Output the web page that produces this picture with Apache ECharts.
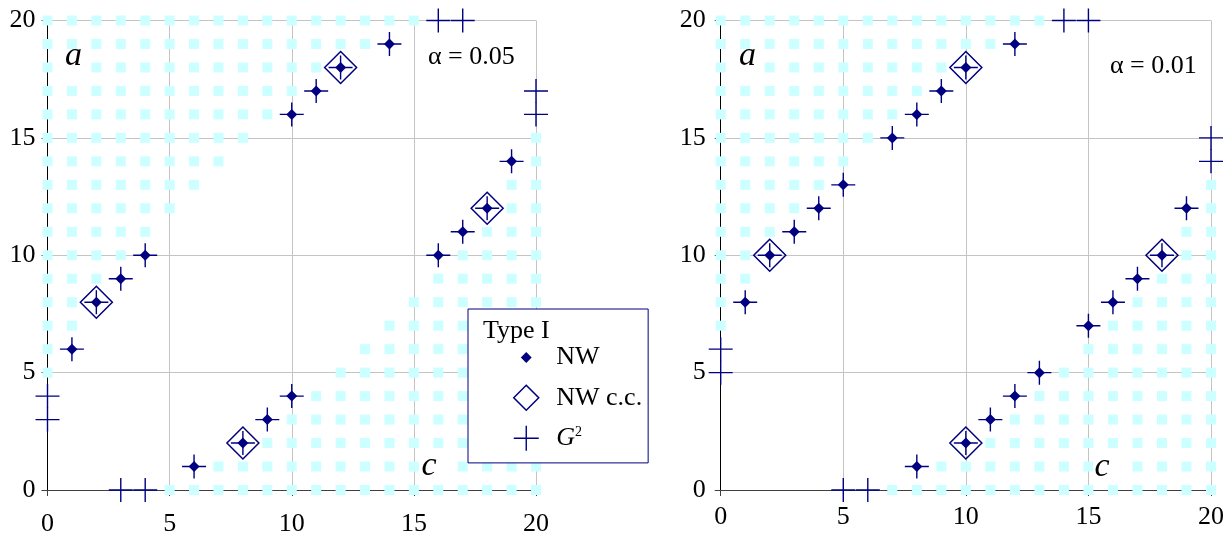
<!DOCTYPE html>
<html>
<head>
<meta charset="utf-8">
<script src="https://cdn.jsdelivr.net/npm/echarts@6/dist/echarts.min.js"></script>
<style>
html,body{margin:0;padding:0;background:#fff;}
#chart{width:1231px;height:537px;}
</style>
</head>
<body>
<div id="chart"></div>
<script>
// ---- axis ----
const AXIS_MIN = 0, AXIS_MAX = 20, AXIS_STEP = 5;
const panelAlpha = ['α = 0.05', 'α = 0.01'];

// ---- alpha = 0.05 ----
// rejection region rows: [y, xFrom, xTo]
const region05 = [
  [20,0,15],[19,0,13],[18,0,11],[17,0,10],[16,0,9],[15,0,8],[14,0,7],[13,0,6],
  [12,0,5],[11,0,4],[10,0,3],[9,0,2],[8,0,1],[7,0,1],[6,0,0],[5,0,0],
  [0,5,20],[1,7,20],[2,9,20],[3,10,20],[4,11,20],[5,12,20],[6,13,20],[7,14,20],
  [8,15,20],[9,16,20],[10,17,20],[11,18,20],[12,19,20],[13,19,20],[14,20,20],[15,20,20]
];
const nw05 = [[14,19],[12,18],[11,17],[10,16],[4,10],[3,9],[2,8],[1,6],
              [19,14],[18,12],[17,11],[16,10],[10,4],[9,3],[8,2],[6,1]];
const nwcc05 = [[12,18],[2,8],[18,12],[8,2]];
const g2_05 = [[14,19],[12,18],[11,17],[10,16],[4,10],[3,9],[2,8],[1,6],
               [19,14],[18,12],[17,11],[16,10],[10,4],[9,3],[8,2],[6,1],
               [16,20],[17,20],[20,16],[20,17],[0,3],[0,4],[3,0],[4,0]];

// ---- alpha = 0.01 ----
const region01 = [
  [20,0,13],[19,0,11],[18,0,9],[17,0,8],[16,0,7],[15,0,6],[14,0,5],[13,0,4],
  [12,0,3],[11,0,2],[10,0,1],[9,0,1],[8,0,0],[7,0,0],
  [0,7,20],[1,9,20],[2,11,20],[3,12,20],[4,13,20],[5,14,20],[6,15,20],[7,16,20],
  [8,17,20],[9,18,20],[10,19,20],[11,19,20],[12,20,20],[13,20,20]
];
const nw01 = [[12,19],[10,18],[9,17],[8,16],[7,15],[5,13],[4,12],[3,11],[2,10],[1,8],
              [19,12],[18,10],[17,9],[16,8],[15,7],[13,5],[12,4],[11,3],[10,2],[8,1]];
const nwcc01 = [[10,18],[2,10],[18,10],[10,2]];
const g2_01 = [[12,19],[10,18],[9,17],[8,16],[7,15],[5,13],[4,12],[3,11],[2,10],[1,8],
               [19,12],[18,10],[17,9],[16,8],[15,7],[13,5],[12,4],[11,3],[10,2],[8,1],
               [14,20],[15,20],[20,14],[20,15],[0,5],[0,6],[5,0],[6,0]];

const panels = [
  {region: region05, nw: nw05, nwcc: nwcc05, g2: g2_05},
  {region: region01, nw: nw01, nwcc: nwcc01, g2: g2_01}
];

function expandRows(rows) {
  const pts = [];
  rows.forEach(r => { for (let x = r[1]; x <= r[2]; x++) pts.push([x, r[0]]); });
  return pts;
}

const NAVY = '#000080';
const CYAN = '#ccffff';
const FONT = 'Liberation Serif';
const FS = 26;
const PLUS = 'path://M12,0V24M0,12H24';

const grids = [
  {left: 47.5, top: 20.5, width: 488.5, height: 469.5},
  {left: 720.7, top: 20.5, width: 490.3, height: 469.5}
];
const xLabelMargin = [21, 14];
const yLabelMargin = [12, 15];

const xAxes = [], yAxes = [], series = [];
panels.forEach((p, i) => {
  xAxes.push({
    gridIndex: i, type: 'value', min: AXIS_MIN, max: AXIS_MAX, interval: AXIS_STEP,
    axisLine: {show: true, onZero: false, lineStyle: {color: '#404040', width: 1}},
    axisTick: {show: true, length: 6, lineStyle: {color: '#404040'}},
    splitLine: {show: true, lineStyle: {color: '#c4c4c4', width: 1}},
    axisLabel: {margin: xLabelMargin[i], fontFamily: FONT, fontSize: FS, color: '#000'}
  });
  yAxes.push({
    gridIndex: i, type: 'value', min: AXIS_MIN, max: AXIS_MAX, interval: AXIS_STEP,
    axisLine: {show: true, onZero: false, lineStyle: {color: '#000', width: 1}},
    axisTick: {show: true, length: 6, lineStyle: {color: '#404040'}},
    splitLine: {show: true, lineStyle: {color: '#c4c4c4', width: 1}},
    axisLabel: {margin: yLabelMargin[i], fontFamily: FONT, fontSize: FS, color: '#000'}
  });
  series.push({
    name: 'region', type: 'scatter', xAxisIndex: i, yAxisIndex: i, z: 2, clip: false, silent: true,
    symbol: 'rect', symbolSize: 10, itemStyle: {color: CYAN, opacity: 1},
    data: expandRows(p.region)
  });
  series.push({
    name: 'NW c.c.', type: 'scatter', xAxisIndex: i, yAxisIndex: i, z: 3, clip: false,
    symbol: 'diamond', symbolSize: 32,
    itemStyle: {color: 'rgba(0,0,0,0)', borderColor: NAVY, borderWidth: 1.5, opacity: 1},
    data: p.nwcc
  });
  series.push({
    name: 'NW', type: 'scatter', xAxisIndex: i, yAxisIndex: i, z: 4, clip: false,
    symbol: 'diamond', symbolSize: 11,
    itemStyle: {color: NAVY, opacity: 1},
    data: p.nw
  });
  series.push({
    name: 'G²', type: 'scatter', xAxisIndex: i, yAxisIndex: i, z: 5, clip: false,
    symbol: PLUS, symbolSize: 24,
    itemStyle: {color: 'rgba(0,0,0,0)', borderColor: NAVY, borderWidth: 1.4, opacity: 1},
    data: p.g2
  });
});

const graphic = [];
// white boxes behind the region letters
[[56,51,31,30],[729,51,33,30],[420,450,30,33],[1093,450,32,33]].forEach(r => {
  graphic.push({type: 'rect', z: 10, shape: {x: r[0], y: r[1], width: r[2], height: r[3]},
                style: {fill: '#fff'}, silent: true});
});
[['a',73.5,56],['a',747.5,56.5],['c',429,466.5],['c',1102,467.5]].forEach(t => {
  graphic.push({type: 'text', z: 11, x: t[1], y: t[2],
    style: {text: t[0], font: 'italic 34px "' + FONT + '"', fill: '#000',
            textAlign: 'center', textVerticalAlign: 'middle'}});
});
graphic.push({type: 'text', z: 11, x: 428, y: 57.5,
  style: {text: panelAlpha[0], font: FS + 'px "' + FONT + '"', fill: '#000', textAlign: 'left', textVerticalAlign: 'middle'}});
graphic.push({type: 'text', z: 11, x: 1110, y: 66,
  style: {text: panelAlpha[1], font: FS + 'px "' + FONT + '"', fill: '#000', textAlign: 'left', textVerticalAlign: 'middle'}});
graphic.push({type: 'text', z: 100, x: 483, y: 331,
  style: {text: 'Type I', font: FS + 'px "' + FONT + '"', fill: '#000', textAlign: 'left', textVerticalAlign: 'middle'}});

const option = {
  animation: false,
  backgroundColor: '#fff',
  grid: grids,
  xAxis: xAxes,
  yAxis: yAxes,
  series: series,
  graphic: graphic,
  legend: {
    left: 468, top: 309, orient: 'vertical',
    padding: [35.5, 6, 11.5, 45],
    itemWidth: 50, itemHeight: 25, itemGap: 14,
    symbolKeepAspect: true,
    backgroundColor: '#fff', borderColor: NAVY, borderWidth: 1, borderRadius: 0,
    selectedMode: false, z: 20,
    textStyle: {fontFamily: FONT, fontSize: FS, color: '#000', lineHeight: 25,
      rich: {
        g: {fontFamily: FONT, fontSize: FS, fontStyle: 'italic', color: '#000'},
        s: {fontFamily: FONT, fontSize: 14, color: '#000', verticalAlign: 'top', lineHeight: 13}
      }},
    formatter: name => name === 'G²' ? '{g|G}{s|2}' : name,
    data: [
      {name: 'NW', icon: 'path://M-1.15,-1.15M1.15,1.15M0,-0.5L0.5,0L0,0.5L-0.5,0Z',
       itemStyle: {color: NAVY, borderWidth: 0}},
      {name: 'NW c.c.', icon: 'path://M0,-1L1,0L0,1L-1,0Z',
       itemStyle: {color: 'rgba(0,0,0,0)', borderColor: NAVY, borderWidth: 1.5}},
      {name: 'G²', icon: 'path://M0,-1V1M-1,0H1',
       itemStyle: {color: 'rgba(0,0,0,0)', borderColor: NAVY, borderWidth: 1.4}}
    ]
  }
};

const chart = echarts.init(document.getElementById('chart'), null, {renderer: 'canvas'});
chart.setOption(option);
</script>
</body>
</html>
